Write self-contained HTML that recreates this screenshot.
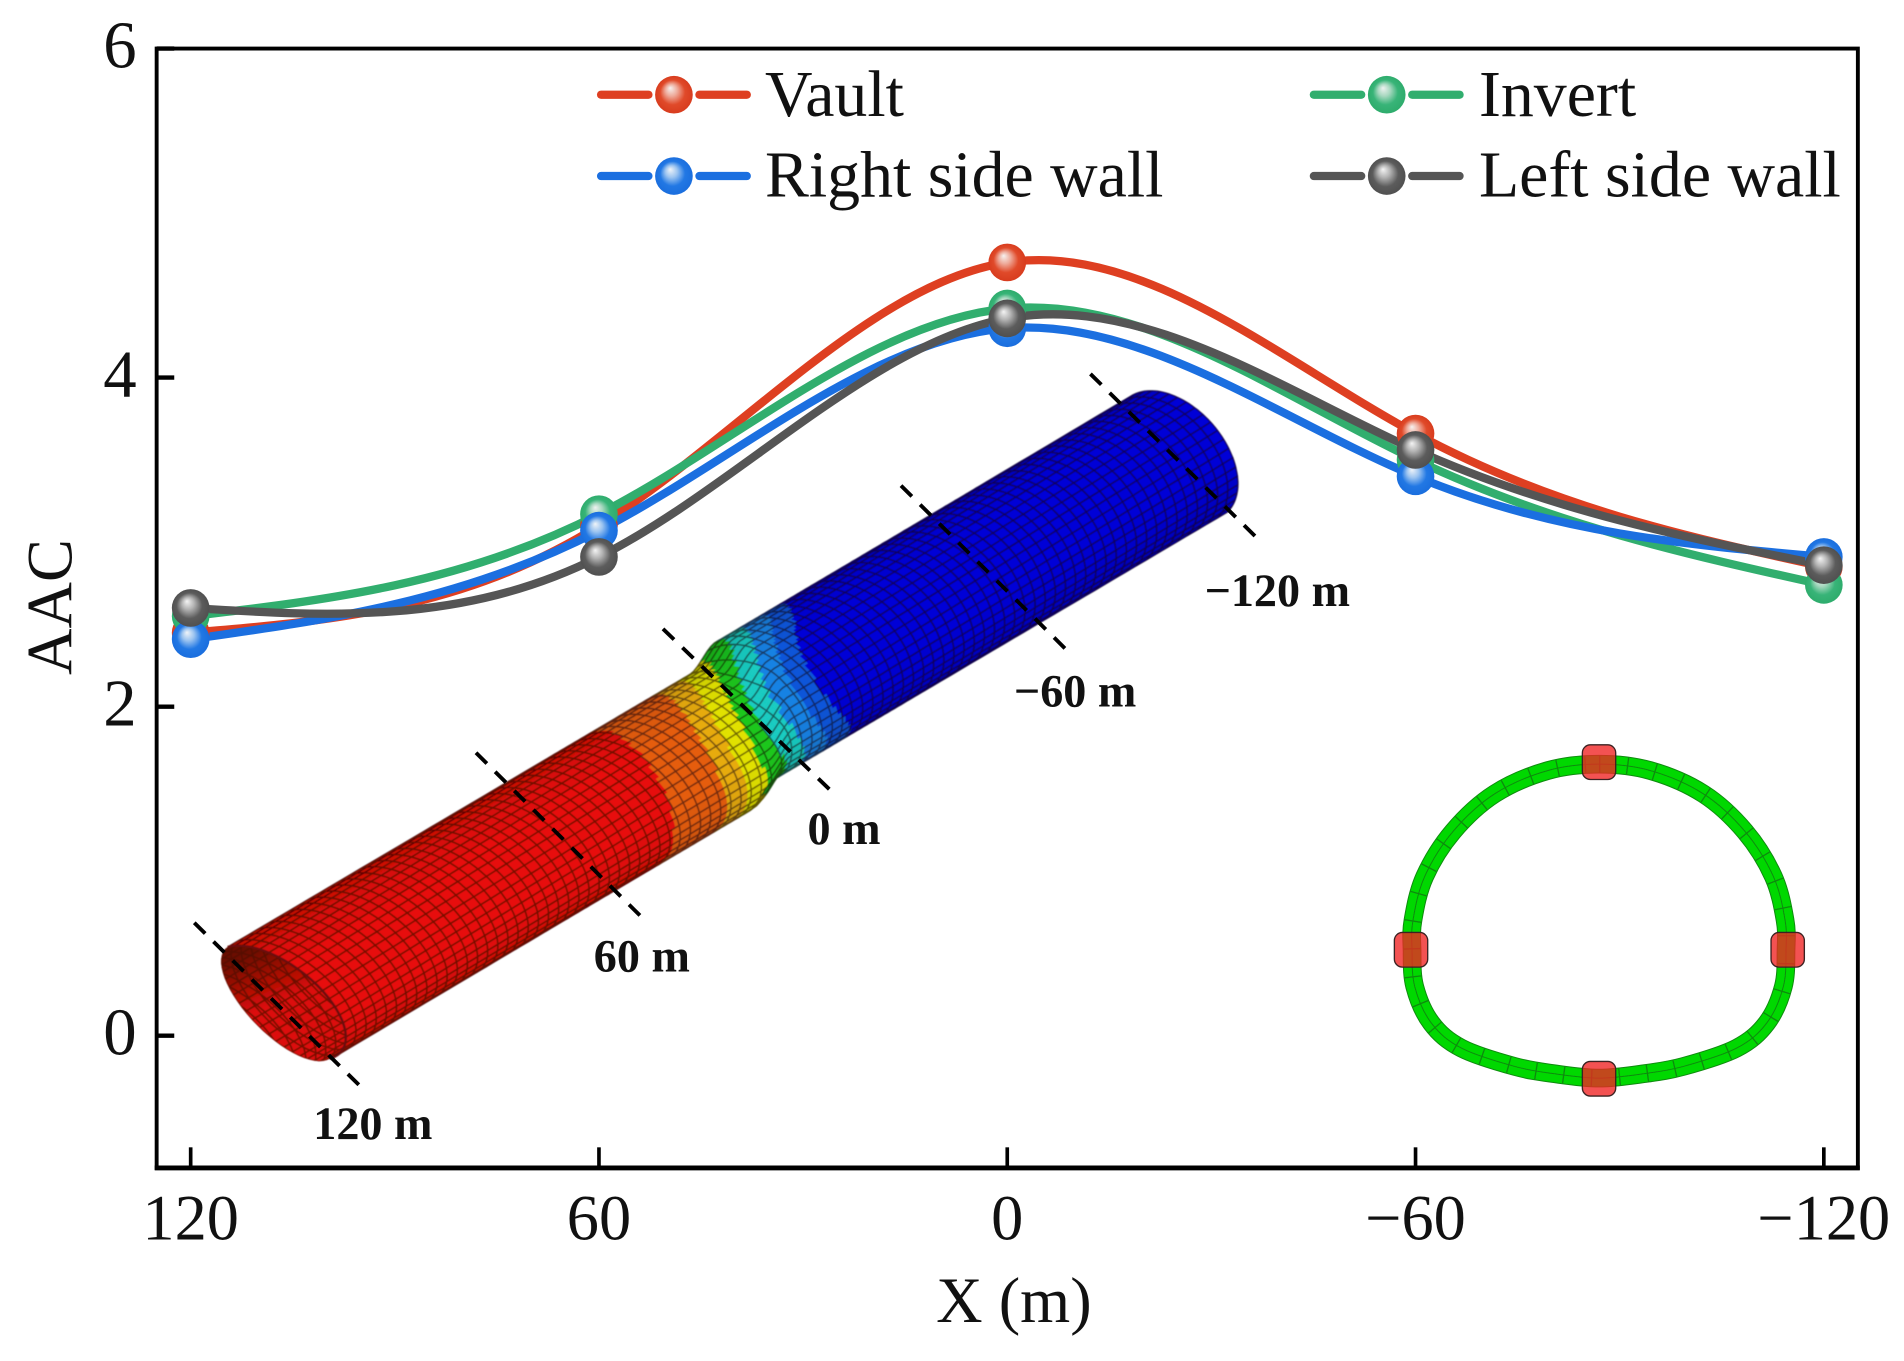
<!DOCTYPE html>
<html lang="en">
<head>
<meta charset="utf-8">
<title>AAC along tunnel axis</title>
<style>
html,body{margin:0;padding:0;background:#fff;}
svg{display:block;width:1904px;height:1361px;font-family:"Liberation Serif",serif;}
</style>
</head>
<body>
<svg id="chart" xmlns="http://www.w3.org/2000/svg" viewBox="0 0 1568 1121" preserveAspectRatio="none">
  <defs>
    <radialGradient id="ball-vault" cx="0.5" cy="0.5" r="0.5" fx="0.4" fy="0.32"><stop offset="0" stop-color="#f6f2f0"/><stop offset="0.32" stop-color="#eeaa9a"/><stop offset="0.66" stop-color="#e04a2a"/><stop offset="1" stop-color="#d83c1e"/></radialGradient>
    <radialGradient id="ball-invert" cx="0.5" cy="0.5" r="0.5" fx="0.4" fy="0.32"><stop offset="0" stop-color="#eef2f0"/><stop offset="0.32" stop-color="#a8d8c0"/><stop offset="0.66" stop-color="#38b478"/><stop offset="1" stop-color="#2eac6c"/></radialGradient>
    <radialGradient id="ball-right" cx="0.5" cy="0.5" r="0.5" fx="0.4" fy="0.32"><stop offset="0" stop-color="#f0f4f8"/><stop offset="0.32" stop-color="#9cc4f0"/><stop offset="0.66" stop-color="#2278e4"/><stop offset="1" stop-color="#1a6ede"/></radialGradient>
    <radialGradient id="ball-left" cx="0.5" cy="0.5" r="0.5" fx="0.4" fy="0.32"><stop offset="0" stop-color="#f4f4f4"/><stop offset="0.32" stop-color="#b4b4b4"/><stop offset="0.68" stop-color="#5c5c5c"/><stop offset="1" stop-color="#505050"/></radialGradient>
    <linearGradient id="hole-shade" x1="0.35" y1="0" x2="0.55" y2="0.45"><stop offset="0" stop-color="#501000" stop-opacity="0.8"/><stop offset="1" stop-color="#501000" stop-opacity="0"/></linearGradient>
    <clipPath id="hole-clip"><path id="hole-clip-path" d=""/></clipPath>
    <filter id="soft" x="-5%" y="-5%" width="110%" height="110%"><feGaussianBlur stdDeviation="0.5"/></filter>
  </defs>

  <rect x="0" y="0" width="1568" height="1121" fill="#ffffff"/>

  <g id="tunnel" filter="url(#soft)"></g>

  <g stroke="#000" stroke-width="3.2" stroke-dasharray="12.6 9.6" fill="none">
    <line x1="160" y1="760" x2="297" y2="895"/>
    <line x1="392" y1="620" x2="530" y2="757"/>
    <line x1="546" y1="518" x2="685" y2="652"/>
    <line x1="742" y1="400" x2="880" y2="537"/>
    <line x1="898" y1="308" x2="1036" y2="444"/>
  </g>
  <g font-size="38" font-weight="700" fill="#111">
    <text x="258" y="938">120 m</text>
    <text x="489" y="800">60 m</text>
    <text x="665" y="695">0 m</text>
    <text x="835" y="582">−60 m</text>
    <text x="992" y="499">−120 m</text>
  </g>

  <g id="section" transform="translate(1111.8 592.9) scale(0.2745)" filter="url(#soft)"></g>

  <g id="axes"></g>
  <g id="series"></g>
  <g id="legend"></g>
</svg>

<script>
const xCategories = [120, 60, 0, -60, -120];
const xTickLabels = ['120', '60', '0', '−60', '−120'];
const yTicks = [0, 2, 4, 6];
const yTickLabels = ['0', '2', '4', '6'];
const vaultValues = [2.45, 3.10, 4.70, 3.66, 2.85];
const invertValues = [2.55, 3.17, 4.42, 3.50, 2.74];
const rightWallValues = [2.41, 3.07, 4.30, 3.40, 2.91];
const leftWallValues = [2.60, 2.91, 4.36, 3.56, 2.86];
const seriesNames = ['Vault', 'Invert', 'Right side wall', 'Left side wall'];

const NS = 'http://www.w3.org/2000/svg';
function mk(tag, parent, attrs) {
  const e = document.createElementNS(NS, tag);
  for (const k in attrs) e.setAttribute(k, attrs[k]);
  parent.appendChild(e);
  return e;
}

/* axis functions */
const plot = { left: 129, right: 1530, top: 40, bottom: 962 };
const xMin = 125, xMax = -125, yMin = -0.804, yMax = 6;
function sx(v) { return plot.left + (v - xMin) / (xMax - xMin) * (plot.right - plot.left); }
function sy(v) { return plot.bottom - (v - yMin) / (yMax - yMin) * (plot.bottom - plot.top); }

/* axes */
const axes = document.getElementById('axes');
const frame = mk('rect', axes, { x: plot.left, y: plot.top, width: plot.right - plot.left, height: plot.bottom - plot.top, fill: 'none', stroke: '#000', 'stroke-width': 3.2 });


const baseLine = mk('line', axes, { x1: plot.left - 1.6, x2: plot.right + 1.6, y1: plot.bottom, y2: plot.bottom, stroke: '#000', 'stroke-width': 4 });


xCategories.forEach((v, i) => {
  const t = mk('line', axes, { x1: sx(v), x2: sx(v), y1: plot.bottom, y2: plot.bottom - 17, stroke: '#000', 'stroke-width': 3 });
  
  
  const l = mk('text', axes, { x: sx(v), y: 1021, 'text-anchor': 'middle', 'font-size': 53, fill: '#111' });
  
  
  l.textContent = xTickLabels[i];
});
yTicks.forEach((v, i) => {
  const t = mk('line', axes, { x1: plot.left, x2: plot.left + 14.5, y1: sy(v), y2: sy(v), stroke: '#000', 'stroke-width': 3.6 });
  
  
  const l = mk('text', axes, { x: 112.5, y: sy(v) + 15.5, 'text-anchor': 'end', 'font-size': 55, fill: '#111' });
  
  
  l.textContent = yTickLabels[i];
});
const xTitle = mk('text', axes, { x: 835, y: 1089, 'text-anchor': 'middle', 'font-size': 53, fill: '#111' });


xTitle.textContent = 'X (m)';
const yTitle = mk('text', axes, { transform: 'translate(59 500) rotate(-90)', 'text-anchor': 'middle', 'font-size': 53, fill: '#111' });


yTitle.textContent = 'AAC';

/* natural cubic spline through pixel points, expressed as Bezier segments */
function splinePath(xs, ys) {
  const n = xs.length, h = xs[1] - xs[0];
  const c = new Array(n).fill(0), d = new Array(n).fill(0), M = new Array(n).fill(0);
  for (let i = 1; i < n - 1; i++) {
    const r = 6 * (ys[i - 1] - 2 * ys[i] + ys[i + 1]) / (h * h);
    const m = 4 - c[i - 1];
    c[i] = 1 / m;
    d[i] = (r - d[i - 1]) / m;
  }
  for (let i = n - 2; i > 0; i--) M[i] = d[i] - c[i] * M[i + 1];
  let path = 'M' + xs[0] + ' ' + ys[0];
  for (let i = 0; i < n - 1; i++) {
    const d0 = (ys[i + 1] - ys[i]) / h - h * (2 * M[i] + M[i + 1]) / 6;
    const d1 = (ys[i + 1] - ys[i]) / h + h * (M[i] + 2 * M[i + 1]) / 6;
    path += 'C' + (xs[i] + h / 3) + ' ' + (ys[i] + d0 * h / 3) + ' ' + (xs[i + 1] - h / 3) + ' ' + (ys[i + 1] - d1 * h / 3) + ' ' + xs[i + 1] + ' ' + ys[i + 1];
  }
  return path;
}

/* series */
const seriesValues = [vaultValues, invertValues, rightWallValues, leftWallValues];
const seriesColors = ['#de3f21', '#31ae6e', '#1b6fe0', '#555555'];
const seriesBalls = ['ball-vault', 'ball-invert', 'ball-right', 'ball-left'];
const seriesGroup = document.getElementById('series');
const px = xCategories.map(sx);
seriesValues.forEach((vals, i) => {
  const p = mk('path', seriesGroup, { d: splinePath(px, vals.map(sy)), fill: 'none', stroke: seriesColors[i], 'stroke-width': 6.8, 'stroke-linecap': 'round' });
  
  
});
seriesValues.forEach((vals, i) => {
  vals.forEach((v, j) => {
    const m = mk('circle', seriesGroup, { cx: px[j], cy: sy(v), r: 15.5, fill: 'url(#' + seriesBalls[i] + ')' });
    
    
  });
});

/* legend */
const legend = document.getElementById('legend');
const legendSlots = [[555, 78, 630, 95.5], [1142, 78, 1218, 95.5], [555, 145, 630, 162], [1142, 145, 1218, 162]];
const legendOrder = [0, 1, 2, 3];
legendOrder.forEach((s, k) => {
  const slot = legendSlots[k];
  const a = mk('line', legend, { x1: slot[0] - 60, x2: slot[0] - 21, y1: slot[1], y2: slot[1], stroke: seriesColors[s], 'stroke-width': 6.8, 'stroke-linecap': 'round' });
  
  
  const b = mk('line', legend, { x1: slot[0] + 21, x2: slot[0] + 60, y1: slot[1], y2: slot[1], stroke: seriesColors[s], 'stroke-width': 6.8, 'stroke-linecap': 'round' });
  
  
  const c = mk('circle', legend, { cx: slot[0], cy: slot[1], r: 15.5, fill: 'url(#' + seriesBalls[s] + ')' });
  
  
  const t = mk('text', legend, { x: slot[2], y: slot[3], 'font-size': 54.2, fill: '#111' });
  
  
  t.textContent = seriesNames[s];
});

/* 3D tunnel model illustration */
(function () {
  const g = document.getElementById('tunnel');
  const RINGS = 88, SEGS = 22, SUB = 3;
  function step(t, cs) {
    const tc = 0.505 - 0.024 * cs;
    let s = (t - tc + 0.014) / 0.028;
    s = Math.max(0, Math.min(1, s));
    return s * s * (3 - 2 * s);
  }
  function P(t, th) {
    const cs = Math.cos(th), sn = Math.sin(th);
    const vx = sn >= 0 ? 36 + (28 - 36) * t : 22;
    const vy = sn >= 0 ? -10 + (-28 + 10) * t : -14;
    return [
      229.5 + 739.5 * t + cs * 42 + sn * vx,
      826 - 436.3 * t - 14 * step(t, cs) + cs * 46 + sn * vy
    ];
  }
  const bands = [
    [0.38, [228, 14, 8]], [0.434, [226, 92, 12]], [0.454, [228, 168, 16]],
    [0.475, [222, 222, 0]], [0.491, [28, 196, 30]], [0.508, [26, 200, 190]],
    [0.528, [24, 128, 224]], [0.549, [16, 84, 214]], [2, [0, 0, 212]]
  ];
  function curveAmount(t) {
    return Math.max(0.003, Math.min(0.045, 0.003 + (t - 0.39) * 0.22));
  }
  function col(t, th, lv) {
    const cs = Math.cos(th);
    const tt = t + 0.018 * cs - curveAmount(t) * cs * cs;
    let c = bands[bands.length - 1][1];
    for (const b of bands) { if (tt < b[0]) { c = b[1]; break; } }
    const f = 0.84 + 0.035 * lv;
    return 'rgb(' + Math.round(c[0] * f) + ',' + Math.round(c[1] * f) + ',' + Math.round(c[2] * f) + ')';
  }
  const pt = p => p[0].toFixed(1) + ' ' + p[1].toFixed(1);

  /* front opening */
  let rim = '';
  for (let k = 0; k <= 60; k++) rim += (k ? 'L' : 'M') + pt(P(0, k / 60 * 2 * Math.PI));
  rim += 'Z';
  document.getElementById('hole-clip-path').setAttribute('d', rim);
  const hole = mk('path', g, { d: rim, fill: '#dc0e08' });
  
  
  let inner = '';
  for (let r = -12; r <= 14; r++) {
    for (let k = 0; k <= 40; k++) {
      const a = k / 40 * 2 * Math.PI;
      const ip = P(0, a);
      inner += (k ? 'L' : 'M') + (ip[0] + r * 8.2).toFixed(1) + ' ' + (ip[1] - r * 4.8).toFixed(1);
    }
  }
  for (let k = 0; k <= SEGS; k++) {
    const a = Math.PI + k / SEGS * Math.PI;
    const a0 = P(0, a), a1 = P(0.15, a);
    inner += 'M' + pt(a0) + 'L' + pt(a1);
  }
  const innerMesh = mk('path', g, { d: inner, fill: 'none', stroke: '#5a0806', 'stroke-opacity': 0.8, 'stroke-width': 1.3, 'clip-path': 'url(#hole-clip)' });
  
  
  const shade = mk('path', g, { d: rim, fill: 'url(#hole-shade)' });
  
  

  /* t grid: finer where the contour bands are */
  const tGrid = [];
  for (let r = 0; r < RINGS; r++) {
    const t0 = r / RINGS;
    const fine = t0 > 0.34 && t0 < 0.66;
    const n = fine ? SUB : 1;
    for (let q = 0; q < n; q++) tGrid.push(t0 + q / n / RINGS);
  }
  tGrid.push(1);

  /* outer surface quads, merged per colour */
  const buckets = {};
  const NTH = SEGS * SUB;
  for (let r = 0; r < tGrid.length - 1; r++) {
    const t0 = tGrid[r], t1 = tGrid[r + 1];
    for (let s = 0; s < NTH; s++) {
      const a0 = s / NTH * Math.PI, a1 = (s + 1) / NTH * Math.PI, am = (a0 + a1) / 2;
      const lv = Math.min(5, Math.floor(Math.sin(am) * 6));
      const key = col((t0 + t1) / 2, am, lv);
      buckets[key] = (buckets[key] || '') + 'M' + pt(P(t0, a0)) + 'L' + pt(P(t1, a0)) + 'L' + pt(P(t1, a1)) + 'L' + pt(P(t0, a1)) + 'Z';
    }
  }
  Object.keys(buckets).forEach(k => {
    const b = mk('path', g, { d: buckets[k], fill: k, stroke: k, 'stroke-width': 0.6 });
    
    
  });

  /* mesh lines */
  let mesh = '';
  for (let r = 0; r <= RINGS; r++) {
    const t = r / RINGS;
    for (let s = 0; s <= NTH; s++) mesh += (s ? 'L' : 'M') + pt(P(t, s / NTH * Math.PI));
  }
  for (let s = 0; s <= SEGS; s++) {
    const th = s / SEGS * Math.PI;
    for (let r = 0; r < tGrid.length; r++) mesh += (r ? 'L' : 'M') + pt(P(tGrid[r], th));
  }
  const meshPath = mk('path', g, { d: mesh, fill: 'none', stroke: '#140406', 'stroke-opacity': 0.55, 'stroke-width': 1.25 });
  
  

  /* dark ridge of the front rim */
  let ridge = '';
  for (let k = 0; k <= 30; k++) ridge += (k ? 'L' : 'M') + pt(P(0, k / 30 * Math.PI));
  const ridgePath = mk('path', g, { d: ridge, fill: 'none', stroke: '#6a0a08', 'stroke-width': 2 });
  
  
})();

/* tunnel cross-section inset */
(function () {
  const g = document.getElementById('section');
  const half = [[747,133],[900,152],[1060,222],[1185,335],[1270,470],[1305,600],[1308,690],[1300,800],[1250,910],[1160,985],[1000,1040],[880,1062],[747,1075]];
  const ring = half.concat(half.slice(1, -1).reverse().map(p => [1494 - p[0], p[1]]));
  const n = ring.length;
  let d = 'M' + ring[0][0] + ' ' + ring[0][1];
  for (let i = 0; i < n; i++) {
    const p0 = ring[(i - 1 + n) % n], p1 = ring[i], p2 = ring[(i + 1) % n], p3 = ring[(i + 2) % n];
    d += 'C' + (p1[0] + (p2[0] - p0[0]) / 6) + ' ' + (p1[1] + (p2[1] - p0[1]) / 6) + ' ' + (p2[0] - (p3[0] - p1[0]) / 6) + ' ' + (p2[1] - (p3[1] - p1[1]) / 6) + ' ' + p2[0] + ' ' + p2[1];
  }
  d += 'Z';
  const edge = mk('path', g, { d: d, fill: 'none', stroke: '#0a8a0a', 'stroke-width': 56 });
  
  
  const body = mk('path', g, { d: d, fill: 'none', stroke: '#06d806', 'stroke-width': 50 });
  
  
  const mid = mk('path', g, { d: d, fill: 'none', stroke: '#0a8a0a', 'stroke-width': 3 });
  
  
  const seams = mk('path', g, { d: d, fill: 'none', stroke: '#0a8a0a', 'stroke-width': 50, 'stroke-dasharray': '4 80' });
  
  
  [[747,127],[183,690],[1313,690],[747,1077]].forEach(c => {
    const r = mk('rect', g, { x: c[0] - 50, y: c[1] - 52, width: 100, height: 104, rx: 24, ry: 24, fill: '#f02424', 'fill-opacity': 0.8, stroke: '#3a2020', 'stroke-width': 4 });
    
    
  });
})();
</script>
</body>
</html>
